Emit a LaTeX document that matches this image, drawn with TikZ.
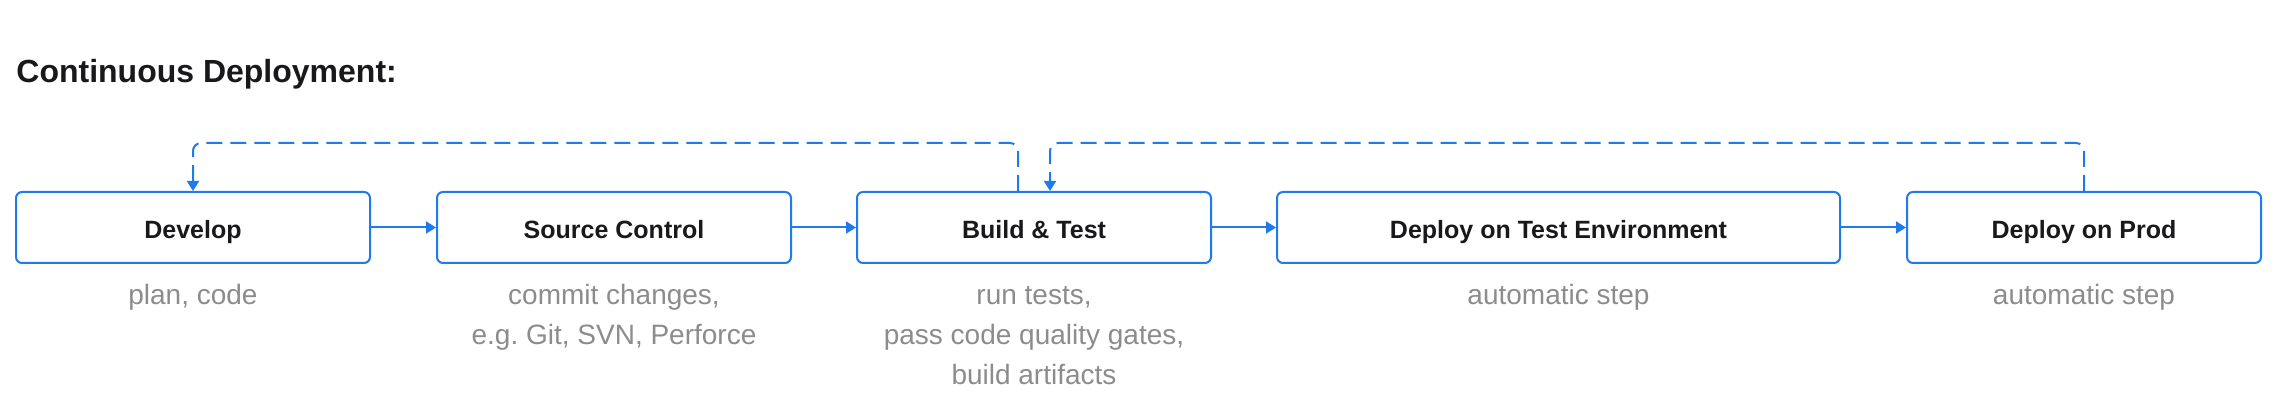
\documentclass[tikz,border=0pt]{standalone}
\usepackage{fontspec}
\setmainfont{Liberation Sans}
\usepackage{xcolor}
\usetikzlibrary{arrows.meta, positioning, calc}

\definecolor{flowblue}{HTML}{1F7AEC}
\definecolor{notegray}{HTML}{8C8C8C}
\definecolor{inkblack}{HTML}{19191C}

\begin{document}
\begin{tikzpicture}[
    x=0.5pt, y=0.5pt,
    >={Triangle[length=5pt, width=6pt]},
    stage/.style={draw=flowblue, line width=1pt, rounded corners=3pt, minimum height=35.5pt, minimum width=177pt, text height=12.5pt, text depth=1.7pt, text=inkblack, font=\fontsize{12.5}{15}\selectfont\bfseries},
    notes/.style={align=center, anchor=north, inner sep=0pt, text=notegray, font=\fontsize{14}{20}\selectfont},
    flow/.style={->, draw=flowblue, line width=1pt},
    back/.style={->, draw=flowblue, line width=1pt, dash pattern=on 8pt off 4pt, rounded corners=4pt}
]
    \useasboundingbox (0,0) rectangle (2278,-416);

    % --- Title ---
    \node[anchor=base west, inner sep=0pt, text=inkblack, font=\fontsize{16}{19}\selectfont\bfseries] (title) at (16,-83) {Continuous Deployment:};

    % --- Stages ---
    \node[stage] (dev) at (193,-227.5) {Develop};
    \node[stage] (scm) at (614,-227.5) {Source Control};
    \node[stage] (build) at (1034,-227.5) {Build \& Test};
    \node[stage, minimum width=281.5pt] (testenv) at (1558.5,-227.5) {Deploy on Test Environment};
    \node[stage] (prod) at (2084,-227.5) {Deploy on Prod};

    % --- Notes (strut keeps first baselines level) ---
    \node[notes] (devnote) at (193,-276) {\strut plan, code};
    \node[notes] (scmnote) at (614,-276) {\strut commit changes,\\e.g.\ Git, SVN, Perforce};
    \node[notes] (buildnote) at (1034,-276) {\strut run tests,\\pass code quality gates,\\build artifacts};
    \node[notes] (testenvnote) at (1558.5,-276) {\strut automatic step};
    \node[notes] (prodnote) at (2084,-276) {\strut automatic step};

    % --- Forward flow ---
    \draw[flow] (dev) -- (scm);
    \draw[flow] (scm) -- (build);
    \draw[flow] (build) -- (testenv);
    \draw[flow] (testenv) -- (prod);

    % --- Feedback loops ---
    \draw[back] ([xshift=-8pt]build.north) -- ++(0,48) -| (dev.north);
    \draw[back] (prod.north) -- ++(0,48) -| ([xshift=8pt]build.north);

\end{tikzpicture}
\end{document}
